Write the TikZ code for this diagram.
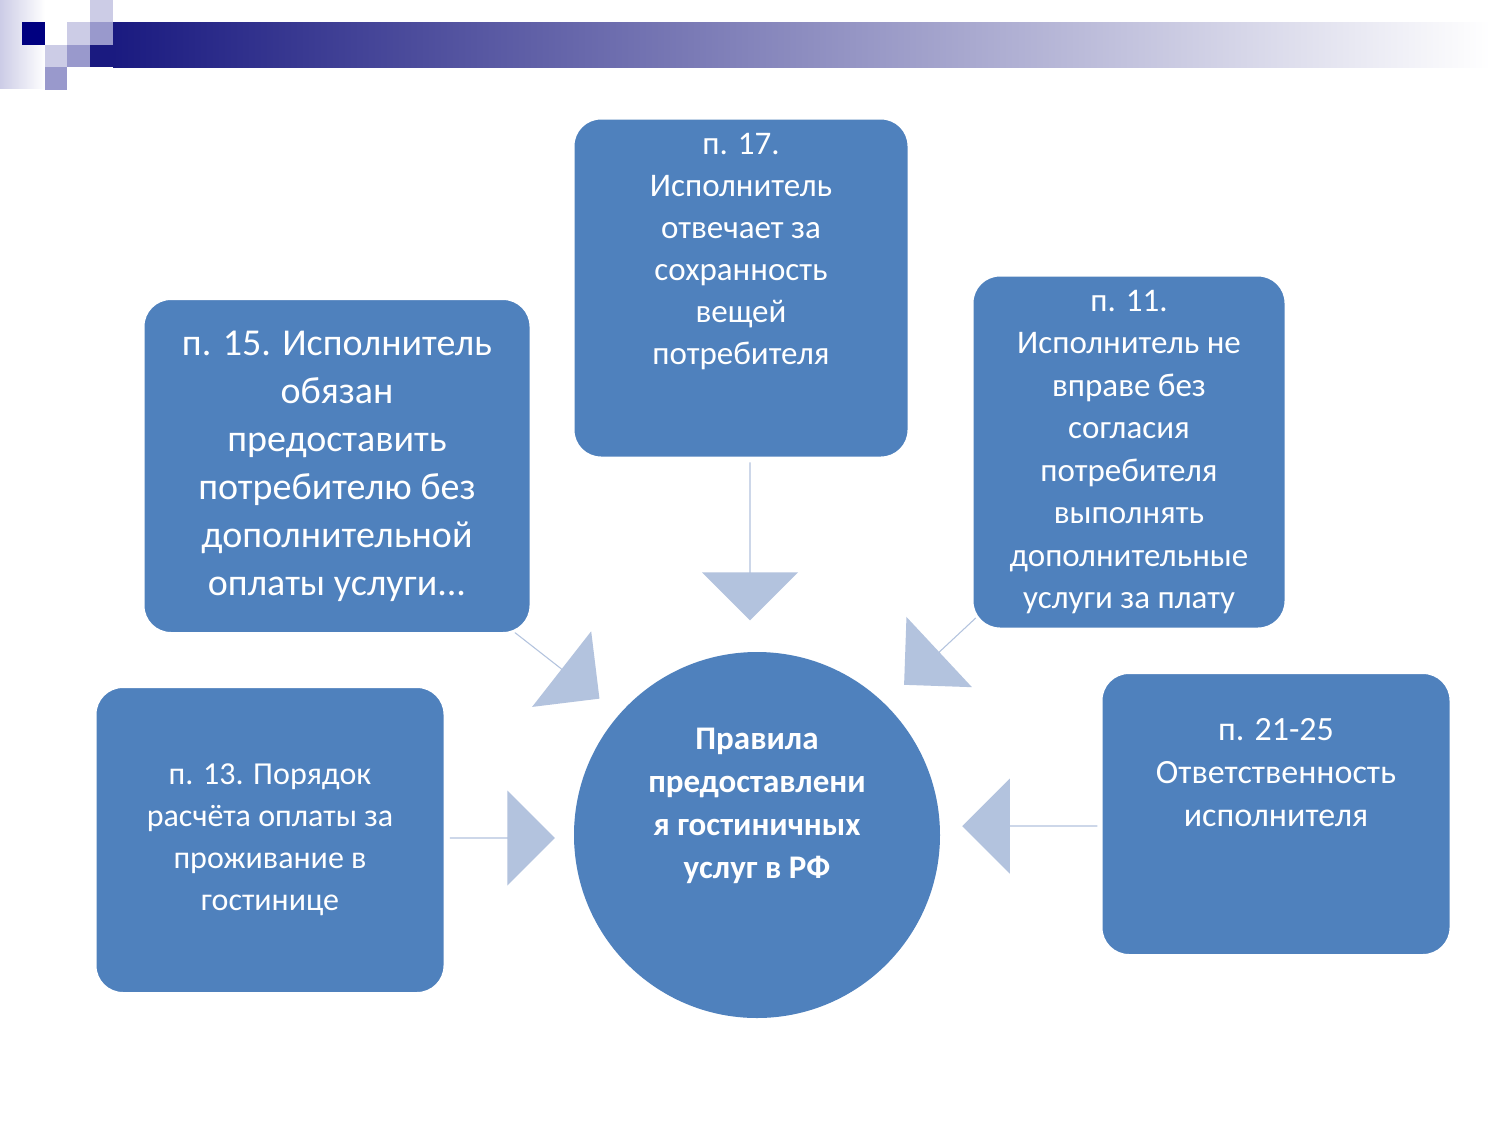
\documentclass[tikz,border=0pt]{standalone}
\usepackage{fontspec}
\setmainfont{Carlito}
\usetikzlibrary{shapes.arrows}
\definecolor{boxblue}{HTML}{4F81BD}
\definecolor{arrblue}{HTML}{B3C3DE}
\definecolor{navy}{HTML}{000080}
\definecolor{lightlav}{HTML}{CCCCE6}
\definecolor{medlav}{HTML}{9999CC}
\definecolor{barnavy}{HTML}{1A1A80}
\tikzset{
  bbox/.style={draw=white,line width=3pt,fill=boxblue,rounded corners=28pt,text=white,align=center,inner sep=0pt},
  barr/.style={single arrow,fill=arrblue,inner sep=0pt,anchor=center},
}
\begin{document}
\begin{tikzpicture}[x=1pt,y=-1pt]
\useasboundingbox (0,0) rectangle (1500,1125);
\fill[white] (0,0) rectangle (1500,1125);
% header
\shade[left color=lightlav,right color=white] (0,0) rectangle (45,88);
\fill[navy] (22,22) rectangle (45,45);
\fill[lightlav] (67,22) rectangle (90,45);
\fill[medlav] (90,22) rectangle (113,45);
\fill[lightlav] (90,0) rectangle (113,22);
\fill[lightlav] (45,45) rectangle (67,67);
\fill[medlav] (67,45) rectangle (90,67);
\fill[medlav] (45,67) rectangle (67,90);
\shade[left color=barnavy,right color=white] (113,22) rectangle (1490,67);
\fill[barnavy] (90,45) rectangle (113,67);
% arrows
\node[barr,minimum height=158pt,minimum width=96pt,single arrow head extend=18pt,shape border rotate=270] (a1) at (750,541) {};
\node[barr,minimum height=125pt,minimum width=96pt,single arrow head extend=18pt,rotate=-38] (a2) at (550,660) {};
\node[barr,minimum height=125pt,minimum width=96pt,single arrow head extend=18pt,rotate=-137] (a3) at (950,642) {};
\node[barr,minimum height=105pt,minimum width=95pt,single arrow head extend=18pt] (a4) at (502,838) {};
\node[barr,minimum height=135pt,minimum width=95pt,single arrow head extend=18pt,shape border rotate=180] (a5) at (1030,826) {};
% boxes
\node[bbox,minimum width=336pt,minimum height=340pt,font=\fontsize{33}{42}\selectfont] (top) at (741,288) {п. 17.\\Исполнитель\\отвечает за\\сохранность\\вещей\\потребителя\\[36pt]};
\node[bbox,minimum width=388pt,minimum height=335pt,font=\fontsize{38}{48}\selectfont] (ul) at (337,466) {п. 15. Исполнитель\\обязан\\предоставить\\потребителю без\\дополнительной\\оплаты услуги...};
\node[bbox,minimum width=314pt,minimum height=354pt,font=\fontsize{33}{42.5}\selectfont] (ur) at (1129,452) {п. 11.\\Исполнитель не\\вправе без\\согласия\\потребителя\\выполнять\\дополнительные\\услуги за плату};
\node[bbox,minimum width=350pt,minimum height=307pt,font=\fontsize{32}{42}\selectfont] (ll) at (270,840) {п. 13. Порядок\\расчёта оплаты за\\проживание в\\гостинице};
\node[bbox,minimum width=350pt,minimum height=283pt,font=\fontsize{34}{43}\selectfont] (lr) at (1276,814) {п. 21-25\\Ответственность\\исполнителя\\[40pt]};
\node[circle,fill=boxblue,text=white,minimum size=366pt,inner sep=0pt,align=center,font=\bfseries\fontsize{33}{43}\selectfont] (c) at (757,835) {Правила\\предоставлени\\я гостиничных\\услуг в РФ\\[20pt]};
\end{tikzpicture}
\end{document}
